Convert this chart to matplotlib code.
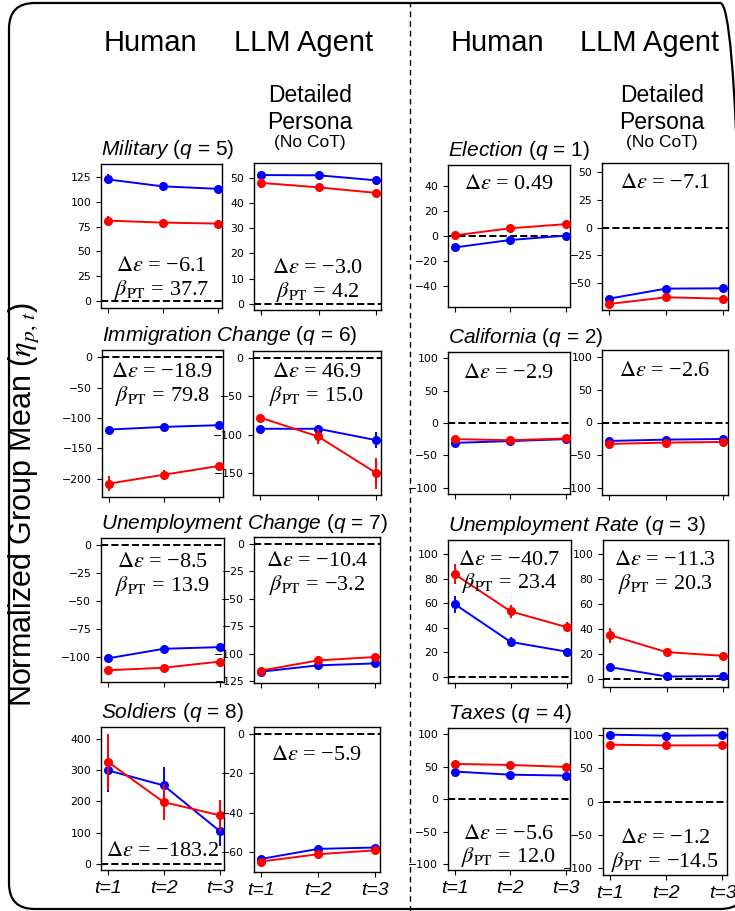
import matplotlib.pyplot as plt
from matplotlib.patches import FancyBboxPatch
from matplotlib.lines import Line2D

W, H = 735, 911
steps = [1, 2, 3]
step_labels = ["t=1", "t=2", "t=3"]

# values: blue / red group means and error half-widths
military_h_blue = [122.5, 115.5, 113.0]
military_h_red = [81.0, 79.0, 78.0]
military_h_blue_err = [5, 4, 4]
military_h_red_err = [5, 4, 4]
military_a_blue = [51.2, 51.1, 49.1]
military_a_red = [48.1, 46.3, 44.1]
military_a_blue_err = [1.0, 1.0, 1.0]
military_a_red_err = [2.0, 1.0, 1.0]

election_h_blue = [-9.2, -3.2, 0.3]
election_h_red = [0.5, 6.2, 9.5]
election_h_blue_err = [1.5, 1.5, 1.5]
election_h_red_err = [1.5, 1.5, 1.5]
election_a_blue = [-63.8, -54.8, -54.5]
election_a_red = [-68.6, -62.6, -63.8]
election_a_blue_err = [1.5, 1.5, 1.5]
election_a_red_err = [1.5, 1.5, 1.5]

immig_h_blue = [-119.0, -114.6, -111.8]
immig_h_red = [-208.0, -193.4, -179.0]
immig_h_blue_err = [3, 3, 3]
immig_h_red_err = [12, 8, 4]
immig_a_blue = [-92.0, -92.0, -106.8]
immig_a_red = [-77.4, -102.0, -149.6]
immig_a_blue_err = [2, 5, 10]
immig_a_red_err = [2, 10, 20]

calif_h_blue = [-30.8, -28.0, -25.0]
calif_h_red = [-25.0, -26.7, -24.0]
calif_h_blue_err = [3, 3, 3]
calif_h_red_err = [3, 3, 3]
calif_a_blue = [-28.0, -26.0, -25.0]
calif_a_red = [-32.5, -30.5, -29.5]
calif_a_blue_err = [3, 3, 3]
calif_a_red_err = [3, 3, 3]

unchg_h_blue = [-101.0, -92.5, -91.0]
unchg_h_red = [-111.6, -109.3, -103.9]
unchg_h_blue_err = [2, 2, 2]
unchg_h_red_err = [2, 2, 2]
unchg_a_blue = [-116.2, -110.5, -108.7]
unchg_a_red = [-115.3, -106.0, -102.9]
unchg_a_blue_err = [1.5, 1.5, 1.5]
unchg_a_red_err = [1.5, 1.5, 1.5]

unrate_h_blue = [59.3, 28.5, 20.6]
unrate_h_red = [83.7, 53.4, 40.6]
unrate_h_blue_err = [7, 4, 3]
unrate_h_red_err = [8, 5, 4]
unrate_a_blue = [9.9, 2.4, 2.7]
unrate_a_red = [35.5, 21.9, 18.9]
unrate_a_blue_err = [3, 1.5, 1.5]
unrate_a_red_err = [6, 2, 2]

soldiers_h_blue = [299.5, 251.3, 106.0]
soldiers_h_red = [327.0, 198.0, 156.0]
soldiers_h_blue_err = [68, 60, 47]
soldiers_h_red_err = [90, 58, 50]
soldiers_a_blue = [-63.4, -58.3, -57.6]
soldiers_a_red = [-64.7, -61.0, -59.0]
soldiers_a_blue_err = [0.8, 0.8, 0.8]
soldiers_a_red_err = [0.8, 0.8, 0.8]

taxes_h_blue = [42.8, 38.0, 36.6]
taxes_h_red = [54.6, 53.0, 50.0]
taxes_h_blue_err = [2, 2, 2]
taxes_h_red_err = [2, 2, 2]
taxes_a_blue = [100.0, 98.5, 99.0]
taxes_a_red = [85.0, 84.0, 84.0]
taxes_a_blue_err = [1.5, 1.5, 1.5]
taxes_a_red_err = [1.5, 1.5, 1.5]

titles = [r"$\mathit{Military}$ ($q$ = 5)", r"$\mathit{Election}$ ($q$ = 1)",
          r"$\mathit{Immigration\ Change}$ ($q$ = 6)", r"$\mathit{California}$ ($q$ = 2)",
          r"$\mathit{Unemployment\ Change}$ ($q$ = 7)", r"$\mathit{Unemployment\ Rate}$ ($q$ = 3)",
          r"$\mathit{Soldiers}$ ($q$ = 8)", r"$\mathit{Taxes}$ ($q$ = 4)"]

D = r"$\Delta\varepsilon$ = "
B = r"$\beta_{\mathrm{PT}}$ = "

panels = [
    # box (l, t, r, b) px, blue, red, errs, ylim, yticks, text lines, text y
    dict(box=(101, 164, 222, 308), blue=military_h_blue, red=military_h_red,
         be=military_h_blue_err, re=military_h_red_err, ylim=(-7, 138), yt=range(0, 126, 25),
         txt=[D + "−6.1", B + "37.7"], ty=0.285, title=0),
    dict(box=(254, 163, 381, 310), blue=military_a_blue, red=military_a_red,
         be=military_a_blue_err, re=military_a_red_err, ylim=(-2.5, 56), yt=range(0, 51, 10),
         txt=[D + "−3.0", B + "4.2"], ty=0.285),
    dict(box=(448, 165, 570, 307), blue=election_h_blue, red=election_h_red,
         be=election_h_blue_err, re=election_h_red_err, ylim=(-57, 57), yt=range(-40, 41, 20),
         txt=[D + "0.49"], ty=0.86, title=1),
    dict(box=(602, 163, 728, 310), blue=election_a_blue, red=election_a_red,
         be=election_a_blue_err, re=election_a_red_err, ylim=(-74, 58), yt=range(-50, 51, 25),
         txt=[D + "−7.1"], ty=0.86),
    dict(box=(102, 350, 223, 497), blue=immig_h_blue, red=immig_h_red,
         be=immig_h_blue_err, re=immig_h_red_err, ylim=(-230, 12), yt=range(-200, 1, 50),
         txt=[D + "−18.9", B + "79.8"], ty=0.85, title=2),
    dict(box=(253, 351, 381, 495), blue=immig_a_blue, red=immig_a_red,
         be=immig_a_blue_err, re=immig_a_red_err, ylim=(-178, 9), yt=range(-150, 1, 50),
         txt=[D + "46.9", B + "15.0"], ty=0.85),
    dict(box=(448, 352, 570, 494), blue=calif_h_blue, red=calif_h_red,
         be=calif_h_blue_err, re=calif_h_red_err, ylim=(-110, 110), yt=range(-100, 101, 50),
         txt=[D + "−2.9"], ty=0.85, title=3),
    dict(box=(602, 350, 728, 495), blue=calif_a_blue, red=calif_a_red,
         be=calif_a_blue_err, re=calif_a_red_err, ylim=(-110, 110), yt=range(-100, 101, 50),
         txt=[D + "−2.6"], ty=0.85),
    dict(box=(101, 538, 224, 682), blue=unchg_h_blue, red=unchg_h_red,
         be=unchg_h_blue_err, re=unchg_h_red_err, ylim=(-122, 6), yt=range(-100, 1, 25),
         txt=[D + "−8.5", B + "13.9"], ty=0.83, title=4),
    dict(box=(254, 537, 380, 683), blue=unchg_a_blue, red=unchg_a_red,
         be=unchg_a_blue_err, re=unchg_a_red_err, ylim=(-126.5, 6), yt=range(-125, 1, 25),
         txt=[D + "−10.4", B + "−3.2"], ty=0.83),
    dict(box=(448, 540, 571, 683), blue=unrate_h_blue, red=unrate_h_red,
         be=unrate_h_blue_err, re=unrate_h_red_err, ylim=(-5, 111.6), yt=range(0, 101, 20),
         txt=[D + "−40.7", B + "23.4"], ty=0.86, title=5),
    dict(box=(603, 540, 728, 687), blue=unrate_a_blue, red=unrate_a_red,
         be=unrate_a_blue_err, re=unrate_a_red_err, ylim=(-6, 111.5), yt=range(0, 101, 20),
         txt=[D + "−11.3", B + "20.3"], ty=0.86),
    dict(box=(101, 727, 224, 870), blue=soldiers_h_blue, red=soldiers_h_red,
         be=soldiers_h_blue_err, re=soldiers_h_red_err, ylim=(-19, 438), yt=range(0, 401, 100),
         txt=[D + "−183.2"], ty=0.13, title=6, bottom=True),
    dict(box=(254, 727, 380, 872), blue=soldiers_a_blue, red=soldiers_a_red,
         be=soldiers_a_blue_err, re=soldiers_a_red_err, ylim=(-70, 3.4), yt=range(-60, 1, 20),
         txt=[D + "−5.9"], ty=0.80, bottom=True),
    dict(box=(448, 728, 570, 870), blue=taxes_h_blue, red=taxes_h_red,
         be=taxes_h_blue_err, re=taxes_h_red_err, ylim=(-109, 110), yt=range(-100, 101, 50),
         txt=[D + "−5.6", B + "12.0"], ty=0.25, title=7, bottom=True),
    dict(box=(603, 728, 727, 875), blue=taxes_a_blue, red=taxes_a_red,
         be=taxes_a_blue_err, re=taxes_a_red_err, ylim=(-110, 110), yt=range(-100, 101, 50),
         txt=[D + "−1.2", B + "−14.5"], ty=0.25, bottom=True),
]

plt.rcParams["font.family"] = ["Liberation Sans", "DejaVu Sans"]
plt.rcParams["mathtext.fontset"] = "custom"
plt.rcParams["mathtext.it"] = "Liberation Sans:italic"
plt.rcParams["mathtext.rm"] = "Liberation Sans"

fig = plt.figure(figsize=(W / 100, H / 100), dpi=100)

for p in panels:
    l, t, r, b = p["box"]
    ax = fig.add_axes([l / W, 1 - b / H, (r - l) / W, (b - t) / H])
    ax.axhline(0, color="black", ls="--", lw=1.4, zorder=1)
    ax.errorbar(steps, p["blue"], yerr=p["be"], color="blue", marker="o", ms=5.5,
                lw=1.4, elinewidth=1.4, capsize=0, zorder=3)
    ax.errorbar(steps, p["red"], yerr=p["re"], color="red", marker="o", ms=5.5,
                lw=1.4, elinewidth=1.4, capsize=0, zorder=4)
    ax.set_xlim(0.88, 3.08)
    ax.set_ylim(*p["ylim"])
    ax.set_yticks(list(p["yt"]))
    ax.set_xticks(steps)
    ax.tick_params(labelsize=7.8, length=3.5, width=0.8)
    for lab in ax.get_yticklabels():
        lab.set_family("DejaVu Sans")
    if p.get("bottom"):
        ax.set_xticklabels(step_labels, fontsize=14, style="italic")
    else:
        ax.set_xticklabels([])
    for s in ax.spines.values():
        s.set_linewidth(1.0)
    for i, line in enumerate(p["txt"]):
        ax.text(0.5, p["ty"] - i * 0.16, line, transform=ax.transAxes, ha="center",
                va="center", fontsize=16, family="Liberation Serif",
                math_fontfamily="stix", zorder=6)
    if "title" in p:
        ax.text(0.0, 1.02, titles[p["title"]], transform=ax.transAxes, ha="left",
                va="bottom", fontsize=15)

# column headers
for x in [150, 497]:
    fig.text(x / W, 1 - 43 / H, "Human", ha="center", va="center", fontsize=21)
for x in [304, 650]:
    fig.text(x / W, 1 - 43 / H, "LLM Agent", ha="center", va="center", fontsize=21)
for x in [310, 662]:
    fig.text(x / W, 1 - 109 / H, "Detailed\nPersona", ha="center", va="center",
             fontsize=16.5, linespacing=1.2)
    fig.text(x / W, 1 - 143 / H, "(No CoT)", ha="center", va="center", fontsize=12.5)

fig.text(25 / W, 1 - 505 / H, r"Normalized Group Mean ($\eta_{p,\,t}$)", rotation=90,
         ha="center", va="center", fontsize=22, math_fontfamily="stix")

# outer rounded frame and middle divider
frame = FancyBboxPatch((9 / W, 2 / H), 737 / W, 906 / H,
                       boxstyle="round,pad=0,rounding_size=0.035",
                       transform=fig.transFigure, fill=False, lw=1.6, ec="black",
                       mutation_aspect=W / H)
fig.patches.append(frame)
fig.add_artist(Line2D([410 / W, 410 / W], [0, 1 - 3 / H], transform=fig.transFigure,
                      color="black", ls="--", lw=1.0, dashes=(4, 3)))

plt.savefig("out.png", dpi=100)
plt.close()
